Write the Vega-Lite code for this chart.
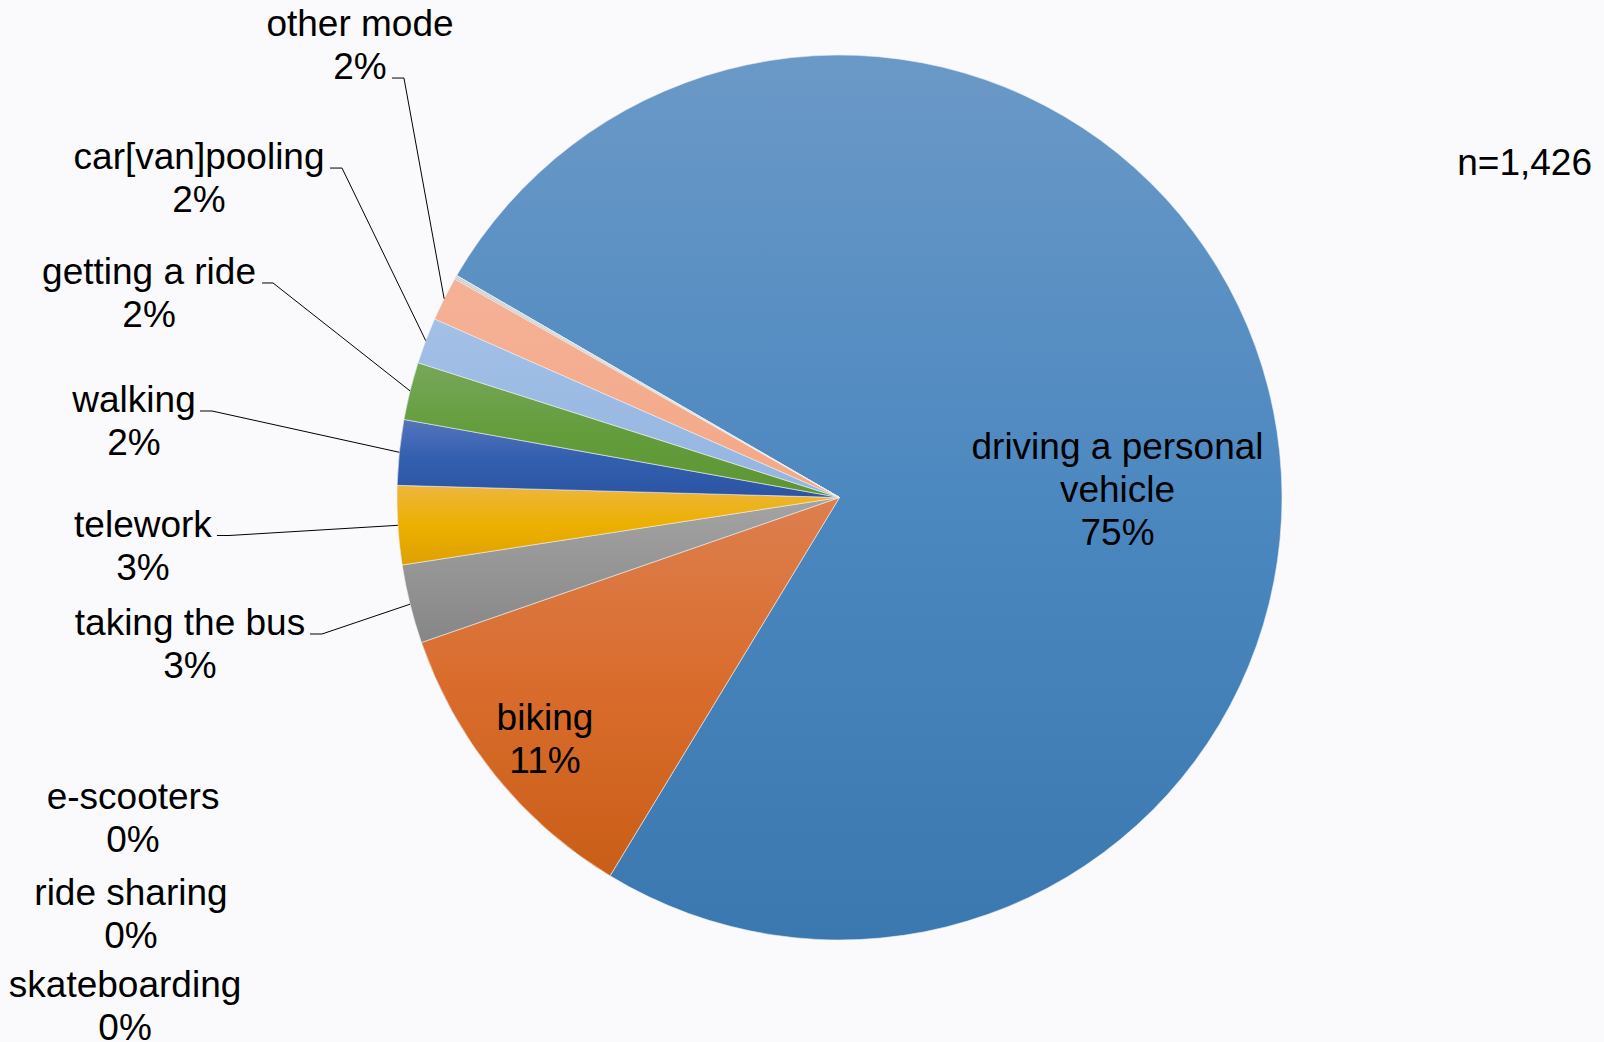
{
  "$schema": "https://vega.github.io/schema/vega-lite/v6.json",
  "width": 1604,
  "height": 1042,
  "autosize": {"type": "none"},
  "padding": 0,
  "background": "#fafafc",
  "title": {"text": "n=1,426", "anchor": "end", "orient": "top", "frame": "group", "font": "Liberation Sans", "fontSize": 37, "fontWeight": "normal", "color": "#000000", "baseline": "alphabetic", "offset": 0, "dy": 212, "dx": -12},
  "config": {
    "view": {"stroke": null},
    "text": {"font": "Liberation Sans", "fontSize": 37, "lineHeight": 43, "align": "center", "baseline": "alphabetic", "color": "#000000", "lineBreak": "\n"},
    "rule": {"color": "#000000", "strokeWidth": 1}
  },
  "data": {"values": [
    {"mode": "driving a personal vehicle", "count": 1074, "order": 1},
    {"mode": "biking", "count": 157, "order": 2},
    {"mode": "taking the bus", "count": 41, "order": 3},
    {"mode": "telework", "count": 41, "order": 4},
    {"mode": "walking", "count": 34, "order": 5},
    {"mode": "getting a ride", "count": 30, "order": 6},
    {"mode": "car[van]pooling", "count": 24, "order": 7},
    {"mode": "other mode", "count": 23, "order": 8},
    {"mode": "e-scooters", "count": 1, "order": 9},
    {"mode": "ride sharing", "count": 1, "order": 10},
    {"mode": "skateboarding", "count": 0, "order": 11}
  ]},
  "transform": [
    {"joinaggregate": [{"op": "sum", "field": "count", "as": "total"}]},
    {"stack": "count", "groupby": [], "sort": [{"field": "order", "order": "ascending"}], "as": ["t0", "t1"], "offset": "zero"},
    {"calculate": "(datum.t0 + datum.t1) / 2", "as": "mid"},
    {"calculate": "5.23773 + 2 * PI * datum.mid / datum.total", "as": "ang"},
    {"calculate": "442.5 * sin(datum.ang)", "as": "ex"},
    {"calculate": "442.5 * cos(datum.ang)", "as": "ey"},
    {"calculate": "format(datum.count / datum.total, '.0%')", "as": "pct"},
    {"calculate": "replace(datum.mode, ' vehicle', '\\nvehicle') + '\\n' + datum.pct", "as": "label"}
  ],
  "layer": [
    {
      "mark": {"type": "arc", "outerRadius": 442.5, "stroke": "#eeeeee", "strokeWidth": 0.6},
      "encoding": {
        "theta": {"field": "t0", "type": "quantitative", "stack": null, "scale": {"zero": true, "nice": false, "range": [5.23773, 11.52092]}},
        "theta2": {"field": "t1"},
        "x": {"datum": 0, "type": "quantitative", "scale": {"domain": [-839.5, 764.5], "nice": false, "zero": false}, "axis": null},
        "y": {"datum": 0, "type": "quantitative", "scale": {"domain": [-544.5, 497.5], "nice": false, "zero": false}, "axis": null},
        "color": {
          "condition": [
            {"test": "datum.mode === 'driving a personal vehicle'", "value": {"gradient": "linear", "x1": 0, "y1": 0, "x2": 0, "y2": 1, "stops": [{"offset": 0, "color": "#6b99c7"}, {"offset": 0.5, "color": "#4c88c0"}, {"offset": 1, "color": "#3b78b0"}]}},
            {"test": "datum.mode === 'biking'", "value": {"gradient": "linear", "x1": 0, "y1": 0, "x2": 0, "y2": 1, "stops": [{"offset": 0, "color": "#dd7f4f"}, {"offset": 0.5, "color": "#d96c2c"}, {"offset": 1, "color": "#c95e17"}]}},
            {"test": "datum.mode === 'taking the bus'", "value": {"gradient": "linear", "x1": 0, "y1": 0, "x2": 0, "y2": 1, "stops": [{"offset": 0, "color": "#a4a4a4"}, {"offset": 1, "color": "#868686"}]}},
            {"test": "datum.mode === 'telework'", "value": {"gradient": "linear", "x1": 0, "y1": 0, "x2": 0, "y2": 1, "stops": [{"offset": 0, "color": "#edb63e"}, {"offset": 0.5, "color": "#ecb000"}, {"offset": 1, "color": "#dea000"}]}},
            {"test": "datum.mode === 'walking'", "value": {"gradient": "linear", "x1": 0, "y1": 0, "x2": 0, "y2": 1, "stops": [{"offset": 0, "color": "#5574bc"}, {"offset": 0.5, "color": "#335fb0"}, {"offset": 1, "color": "#2c54a3"}]}},
            {"test": "datum.mode === 'getting a ride'", "value": {"gradient": "linear", "x1": 0, "y1": 0, "x2": 0, "y2": 1, "stops": [{"offset": 0, "color": "#77a75a"}, {"offset": 0.5, "color": "#649d3c"}, {"offset": 1, "color": "#5d9534"}]}},
            {"test": "datum.mode === 'car[van]pooling'", "value": {"gradient": "linear", "x1": 0, "y1": 0, "x2": 0, "y2": 1, "stops": [{"offset": 0, "color": "#a3c0e6"}, {"offset": 1, "color": "#93b5e1"}]}},
            {"test": "datum.mode === 'other mode'", "value": {"gradient": "linear", "x1": 0, "y1": 0, "x2": 0, "y2": 1, "stops": [{"offset": 0, "color": "#f5b197"}, {"offset": 1, "color": "#f4a886"}]}}
          ],
          "value": "#c8c8c8"
        }
      }
    },
    {"transform": [{"filter": "datum.mode === 'other mode'"}], "mark": {"type": "rule", "x2Offset": -40.2, "y2Offset": -220.7},
     "encoding": {"x": {"field": "ex", "type": "quantitative"}, "y": {"field": "ey", "type": "quantitative"}, "x2": {"field": "ex"}, "y2": {"field": "ey"}}},
    {"transform": [{"filter": "datum.mode === 'other mode'"}], "mark": {"type": "rule", "xOffset": -40.2, "yOffset": -220.7, "x2Offset": -52.2, "y2Offset": -220.7},
     "encoding": {"x": {"field": "ex", "type": "quantitative"}, "y": {"field": "ey", "type": "quantitative"}, "x2": {"field": "ex"}, "y2": {"field": "ey"}}},
    {"transform": [{"filter": "datum.mode === 'car[van]pooling'"}], "mark": {"type": "rule", "x2Offset": -83.7, "y2Offset": -172.6},
     "encoding": {"x": {"field": "ex", "type": "quantitative"}, "y": {"field": "ey", "type": "quantitative"}, "x2": {"field": "ex"}, "y2": {"field": "ey"}}},
    {"transform": [{"filter": "datum.mode === 'car[van]pooling'"}], "mark": {"type": "rule", "xOffset": -83.7, "yOffset": -172.6, "x2Offset": -95.7, "y2Offset": -172.6},
     "encoding": {"x": {"field": "ex", "type": "quantitative"}, "y": {"field": "ey", "type": "quantitative"}, "x2": {"field": "ex"}, "y2": {"field": "ey"}}},
    {"transform": [{"filter": "datum.mode === 'getting a ride'"}], "mark": {"type": "rule", "x2Offset": -137, "y2Offset": -107.9},
     "encoding": {"x": {"field": "ex", "type": "quantitative"}, "y": {"field": "ey", "type": "quantitative"}, "x2": {"field": "ex"}, "y2": {"field": "ey"}}},
    {"transform": [{"filter": "datum.mode === 'getting a ride'"}], "mark": {"type": "rule", "xOffset": -137, "yOffset": -107.9, "x2Offset": -148, "y2Offset": -107.9},
     "encoding": {"x": {"field": "ex", "type": "quantitative"}, "y": {"field": "ey", "type": "quantitative"}, "x2": {"field": "ex"}, "y2": {"field": "ey"}}},
    {"transform": [{"filter": "datum.mode === 'walking'"}], "mark": {"type": "rule", "x2Offset": -187.3, "y2Offset": -41.3},
     "encoding": {"x": {"field": "ex", "type": "quantitative"}, "y": {"field": "ey", "type": "quantitative"}, "x2": {"field": "ex"}, "y2": {"field": "ey"}}},
    {"transform": [{"filter": "datum.mode === 'walking'"}], "mark": {"type": "rule", "xOffset": -187.3, "yOffset": -41.3, "x2Offset": -199.3, "y2Offset": -41.3},
     "encoding": {"x": {"field": "ex", "type": "quantitative"}, "y": {"field": "ey", "type": "quantitative"}, "x2": {"field": "ex"}, "y2": {"field": "ey"}}},
    {"transform": [{"filter": "datum.mode === 'telework'"}], "mark": {"type": "rule", "x2Offset": -168.9, "y2Offset": 10.2},
     "encoding": {"x": {"field": "ex", "type": "quantitative"}, "y": {"field": "ey", "type": "quantitative"}, "x2": {"field": "ex"}, "y2": {"field": "ey"}}},
    {"transform": [{"filter": "datum.mode === 'telework'"}], "mark": {"type": "rule", "xOffset": -168.9, "yOffset": 10.2, "x2Offset": -180.9, "y2Offset": 10.2},
     "encoding": {"x": {"field": "ex", "type": "quantitative"}, "y": {"field": "ey", "type": "quantitative"}, "x2": {"field": "ex"}, "y2": {"field": "ey"}}},
    {"transform": [{"filter": "datum.mode === 'taking the bus'"}], "mark": {"type": "rule", "x2Offset": -88.1, "y2Offset": 29.8},
     "encoding": {"x": {"field": "ex", "type": "quantitative"}, "y": {"field": "ey", "type": "quantitative"}, "x2": {"field": "ex"}, "y2": {"field": "ey"}}},
    {"transform": [{"filter": "datum.mode === 'taking the bus'"}], "mark": {"type": "rule", "xOffset": -88.1, "yOffset": 29.8, "x2Offset": -100.1, "y2Offset": 29.8},
     "encoding": {"x": {"field": "ex", "type": "quantitative"}, "y": {"field": "ey", "type": "quantitative"}, "x2": {"field": "ex"}, "y2": {"field": "ey"}}},
    {"transform": [{"filter": "datum.mode === 'driving a personal vehicle'"}], "mark": {"type": "text", "dx": -150.7, "dy": 71},
     "encoding": {"x": {"field": "ex", "type": "quantitative"}, "y": {"field": "ey", "type": "quantitative"}, "text": {"field": "label"}}},
    {"transform": [{"filter": "datum.mode === 'biking'"}], "mark": {"type": "text", "dx": 49.6, "dy": -45.5},
     "encoding": {"x": {"field": "ex", "type": "quantitative"}, "y": {"field": "ey", "type": "quantitative"}, "text": {"field": "label"}}},
    {"transform": [{"filter": "datum.mode === 'taking the bus'"}], "mark": {"type": "text", "dx": -220.1, "dy": 30.8},
     "encoding": {"x": {"field": "ex", "type": "quantitative"}, "y": {"field": "ey", "type": "quantitative"}, "text": {"field": "label"}}},
    {"transform": [{"filter": "datum.mode === 'telework'"}], "mark": {"type": "text", "dx": -254.9, "dy": 11.7},
     "encoding": {"x": {"field": "ex", "type": "quantitative"}, "y": {"field": "ey", "type": "quantitative"}, "text": {"field": "label"}}},
    {"transform": [{"filter": "datum.mode === 'walking'"}], "mark": {"type": "text", "dx": -265.3, "dy": -40.3},
     "encoding": {"x": {"field": "ex", "type": "quantitative"}, "y": {"field": "ey", "type": "quantitative"}, "text": {"field": "label"}}},
    {"transform": [{"filter": "datum.mode === 'getting a ride'"}], "mark": {"type": "text", "dx": -261, "dy": -107},
     "encoding": {"x": {"field": "ex", "type": "quantitative"}, "y": {"field": "ey", "type": "quantitative"}, "text": {"field": "label"}}},
    {"transform": [{"filter": "datum.mode === 'car[van]pooling'"}], "mark": {"type": "text", "dx": -226.7, "dy": -172},
     "encoding": {"x": {"field": "ex", "type": "quantitative"}, "y": {"field": "ey", "type": "quantitative"}, "text": {"field": "label"}}},
    {"transform": [{"filter": "datum.mode === 'other mode'"}], "mark": {"type": "text", "dx": -84.2, "dy": -263},
     "encoding": {"x": {"field": "ex", "type": "quantitative"}, "y": {"field": "ey", "type": "quantitative"}, "text": {"field": "label"}}},
    {"transform": [{"filter": "datum.mode === 'e-scooters'"}], "mark": {"type": "text", "dx": -322.2, "dy": 530.9},
     "encoding": {"x": {"field": "ex", "type": "quantitative"}, "y": {"field": "ey", "type": "quantitative"}, "text": {"field": "label"}}},
    {"transform": [{"filter": "datum.mode === 'ride sharing'"}], "mark": {"type": "text", "dx": -325.2, "dy": 628.5},
     "encoding": {"x": {"field": "ex", "type": "quantitative"}, "y": {"field": "ey", "type": "quantitative"}, "text": {"field": "label"}}},
    {"transform": [{"filter": "datum.mode === 'skateboarding'"}], "mark": {"type": "text", "dx": -331.6, "dy": 721.4},
     "encoding": {"x": {"field": "ex", "type": "quantitative"}, "y": {"field": "ey", "type": "quantitative"}, "text": {"field": "label"}}}
  ]
}
